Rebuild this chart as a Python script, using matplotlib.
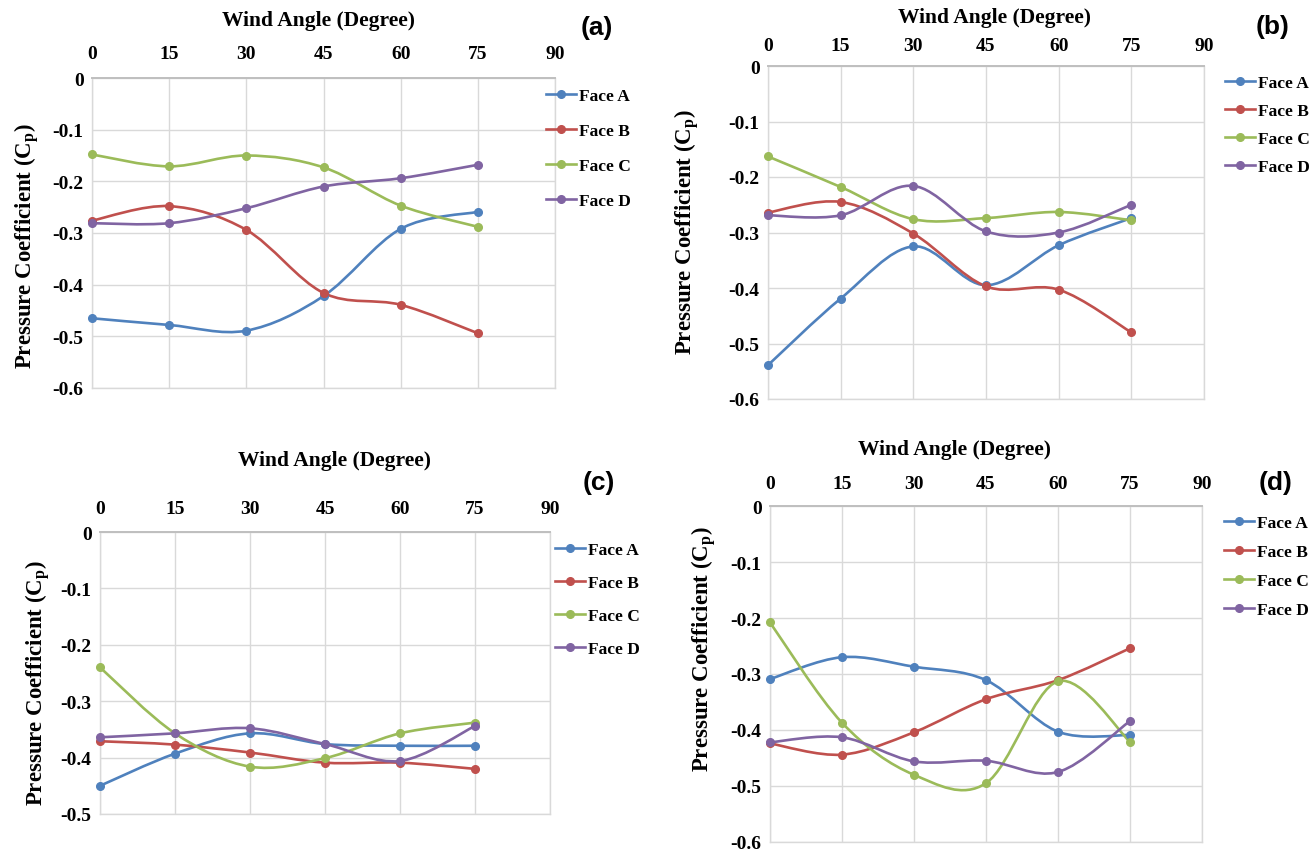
import numpy as np
import matplotlib

matplotlib.use("Agg")
import matplotlib.pyplot as plt
from matplotlib.path import Path
from matplotlib.patches import PathPatch
from matplotlib.lines import Line2D

plt.rcParams["font.family"] = ["Liberation Serif", "DejaVu Serif"]
plt.rcParams["font.weight"] = "bold"
plt.rcParams["axes.unicode_minus"] = False
plt.rcParams["mathtext.fontset"] = "custom"
plt.rcParams["mathtext.rm"] = "Liberation Serif:bold"
plt.rcParams["mathtext.it"] = "Liberation Serif:bold"
plt.rcParams["mathtext.bf"] = "Liberation Serif:bold"

W, H = 1315, 853

# ---- data ----
angles = [0, 15, 30, 45, 60, 75]
faces = ["Face A", "Face B", "Face C", "Face D"]

a_face_a = [-0.465, -0.478, -0.489, -0.422, -0.292, -0.259]
a_face_b = [-0.276, -0.248, -0.294, -0.416, -0.439, -0.494]
a_face_c = [-0.148, -0.171, -0.150, -0.173, -0.247, -0.288]
a_face_d = [-0.281, -0.281, -0.252, -0.210, -0.194, -0.168]

b_face_a = [-0.539, -0.419, -0.325, -0.395, -0.323, -0.274]
b_face_b = [-0.264, -0.245, -0.302, -0.397, -0.403, -0.480]
b_face_c = [-0.163, -0.218, -0.276, -0.274, -0.263, -0.278]
b_face_d = [-0.269, -0.269, -0.216, -0.298, -0.300, -0.250]

c_face_a = [-0.450, -0.393, -0.357, -0.376, -0.379, -0.379]
c_face_b = [-0.371, -0.377, -0.391, -0.409, -0.409, -0.420]
c_face_c = [-0.240, -0.357, -0.416, -0.401, -0.357, -0.338]
c_face_d = [-0.364, -0.357, -0.348, -0.376, -0.406, -0.344]

d_face_a = [-0.309, -0.270, -0.287, -0.311, -0.403, -0.409]
d_face_b = [-0.424, -0.444, -0.404, -0.345, -0.311, -0.254]
d_face_c = [-0.208, -0.387, -0.480, -0.495, -0.313, -0.421]
d_face_d = [-0.422, -0.413, -0.456, -0.455, -0.475, -0.384]

x_ticks = [0, 15, 30, 45, 60, 75, 90]

COLORS = ["#4F81BD", "#C0504D", "#9BBB59", "#8064A2"]
GRID = "#D9D9D9"

# panel layout in pixels (from top-left of the image)
PANELS = [
    dict(box=(92, 79, 555, 389), ymin=-0.6, tag="(a)", tag_xy=(597, 28),
         title_xy=(318, 21), tick_gap=26, ylab_xy=(27, 246),
         leg_xy=(546, 89), leg_sp=1.08,
         series=[a_face_a, a_face_b, a_face_c, a_face_d]),
    dict(box=(768, 67, 1204, 400), ymin=-0.6, tag="(b)", tag_xy=(1273, 27),
         title_xy=(994, 18), tick_gap=22, ylab_xy=(687, 232),
         leg_xy=(1225, 76), leg_sp=0.68,
         series=[b_face_a, b_face_b, b_face_c, b_face_d]),
    dict(box=(100, 533, 550, 815), ymin=-0.5, tag="(c)", tag_xy=(599, 483),
         title_xy=(334, 461), tick_gap=25, ylab_xy=(38, 683),
         leg_xy=(555, 543), leg_sp=0.96,
         series=[c_face_a, c_face_b, c_face_c, c_face_d]),
    dict(box=(770, 507, 1202, 843), ymin=-0.6, tag="(d)", tag_xy=(1276, 483),
         title_xy=(954, 450), tick_gap=24, ylab_xy=(704, 649),
         leg_xy=(1224, 516), leg_sp=0.73,
         series=[d_face_a, d_face_b, d_face_c, d_face_d]),
]


def fx(px):
    return px / W


def fy(py):
    return 1 - py / H


def smooth_path(xs, ys):
    """Bezier path through the points, the way spreadsheet 'smoothed lines' look."""
    pts = np.column_stack([xs, ys]).astype(float)
    n = len(pts)
    verts = [pts[0]]
    codes = [Path.MOVETO]
    for i in range(n - 1):
        p0 = pts[i - 1] if i > 0 else pts[i]
        p1, p2 = pts[i], pts[i + 1]
        p3 = pts[i + 2] if i + 2 < n else pts[i + 1]
        verts += [p1 + (p2 - p0) / 6, p2 - (p3 - p1) / 6, p2]
        codes += [Path.CURVE4] * 3
    return Path(verts, codes)


fig = plt.figure(figsize=(W / 100, H / 100), dpi=100)

for p in PANELS:
    l, t, r, b = p["box"]
    ax = fig.add_axes([fx(l), fy(b), fx(r) - fx(l), fy(t) - fy(b)])
    ax.set_xlim(0, 90)
    ax.set_ylim(p["ymin"], 0)

    for vals, color in zip(p["series"], COLORS):
        ax.add_patch(PathPatch(smooth_path(angles, vals), fill=False,
                               edgecolor=color, lw=1.9, zorder=3,
                               capstyle="round"))
        ax.plot(angles, vals, "o", color=color, ms=5.5, zorder=4, clip_on=False)

    yt = np.round(np.arange(0, p["ymin"] - 0.01, -0.1), 1)
    ax.set_yticks(yt)
    ax.set_yticklabels([f"{v:g}" if v != 0 else "0" for v in yt])
    ax.set_xticks(x_ticks)
    ax.xaxis.tick_top()
    ax.tick_params(length=0, labelsize=14)
    ax.tick_params(axis="x", pad=p["tick_gap"] * 0.72 - 7)
    ax.tick_params(axis="y", pad=6)
    ax.grid(True, color=GRID, lw=1.0)
    ax.set_axisbelow(True)
    for side, sp in ax.spines.items():
        sp.set_color(GRID)
        sp.set_linewidth(1.0)
    ax.spines["top"].set_color("#BFBFBF")
    ax.spines["top"].set_linewidth(1.4)

    fig.text(fx(p["title_xy"][0]), fy(p["title_xy"][1]), "Wind Angle (Degree)",
             ha="center", va="center", fontsize=15.5, fontweight="bold")
    fig.text(fx(p["ylab_xy"][0]), fy(p["ylab_xy"][1]),
             r"Pressure Coefficient (C$_{\mathrm{p}}$)", rotation=90,
             ha="center", va="center", fontsize=16.5, fontweight="bold")
    fig.text(fx(p["tag_xy"][0]), fy(p["tag_xy"][1]), p["tag"],
             ha="center", va="center", fontsize=19, fontweight="bold",
             family="Liberation Sans")

    handles = [Line2D([], [], color=c, lw=1.9, marker="o", ms=5.5) for c in COLORS]
    fig.legend(handles, faces, loc="upper left",
               bbox_to_anchor=(fx(p["leg_xy"][0]), fy(p["leg_xy"][1])),
               frameon=False, fontsize=12.5, handlelength=1.7,
               handletextpad=0.2, borderpad=0, borderaxespad=0,
               labelspacing=p["leg_sp"])

fig.savefig("out.png", dpi=100)
